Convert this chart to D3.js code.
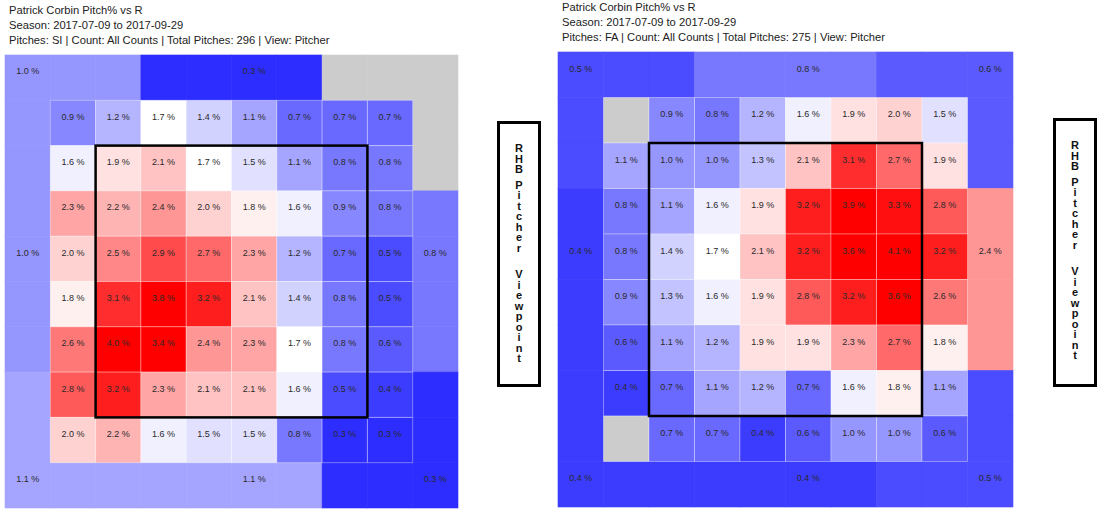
<!DOCTYPE html>
<html>
<head>
<meta charset="utf-8">
<script src="https://cdn.jsdelivr.net/npm/d3@7"></script>
<style>
  body { margin: 0; background: #fff; }
  svg { display: block; font-family: "Liberation Sans", Arial, sans-serif; }
</style>
</head>
<body>
<div id="chart"></div>
<script>
// zone grid: 10 x 10 cells, inner 8 x 8 are single zones, outer ring is 8 regions
var zone_index   = d3.range(10);
var region_names = ["TL", "T", "TR", "L", "R", "BL", "B", "BR"];

var si_titles = [
  "Patrick Corbin Pitch% vs R",
  "Season: 2017-07-09 to 2017-09-29",
  "Pitches: SI | Count: All Counts | Total Pitches: 296 | View: Pitcher"
];
var fa_titles = [
  "Patrick Corbin Pitch% vs R",
  "Season: 2017-07-09 to 2017-09-29",
  "Pitches: FA | Count: All Counts | Total Pitches: 275 | View: Pitcher"
];

// inner zones, rows top to bottom, columns left to right (null = no pitches)
var si_inner = [
  [0.9, 1.2, 1.7, 1.4, 1.1, 0.7, 0.7, 0.7],
  [1.6, 1.9, 2.1, 1.7, 1.5, 1.1, 0.8, 0.8],
  [2.3, 2.2, 2.4, 2.0, 1.8, 1.6, 0.9, 0.8],
  [2.0, 2.5, 2.9, 2.7, 2.3, 1.2, 0.7, 0.5],
  [1.8, 3.1, 3.8, 3.2, 2.1, 1.4, 0.8, 0.5],
  [2.6, 4.0, 3.4, 2.4, 2.3, 1.7, 0.8, 0.6],
  [2.8, 3.2, 2.3, 2.1, 2.1, 1.6, 0.5, 0.4],
  [2.0, 2.2, 1.6, 1.5, 1.5, 0.8, 0.3, 0.3]
];
var si_outer = [1.0, 0.3, null, 1.0, 0.8, 1.1, 1.1, 0.3];

var fa_inner = [
  [null, 0.9, 0.8, 1.2, 1.6, 1.9, 2.0, 1.5],
  [1.1, 1.0, 1.0, 1.3, 2.1, 3.1, 2.7, 1.9],
  [0.8, 1.1, 1.6, 1.9, 3.2, 3.9, 3.3, 2.8],
  [0.8, 1.4, 1.7, 2.1, 3.2, 3.6, 4.1, 3.2],
  [0.9, 1.3, 1.6, 1.9, 2.8, 3.2, 3.6, 2.6],
  [0.6, 1.1, 1.2, 1.9, 1.9, 2.3, 2.7, 1.8],
  [0.4, 0.7, 1.1, 1.2, 0.7, 1.6, 1.8, 1.1],
  [null, 0.7, 0.7, 0.4, 0.6, 1.0, 1.0, 0.6]
];
var fa_outer = [0.5, 0.8, 0.6, 0.4, 2.4, 0.4, 0.4, 0.5];

var side_words = ["RHB", "Pitcher", "Viewpoint"];

var width  = 1119;
var height = 522;

var color = d3.scaleLinear()
  .domain([0, 1.7, 3.4])
  .range(["#0000ff", "#ffffff", "#ff0000"])
  .clamp(true);

function fill_of (v) {
  return v == null ? "#cccccc" : color(v);
}

// which outer region a ring cell belongs to
function region_of (c, r) {
  if (r === 0) return c <= 2 ? "TL" : (c <= 6 ? "T" : "TR");
  if (r === 9) return c <= 2 ? "BL" : (c <= 6 ? "B" : "BR");
  if (c === 0) return r <= 2 ? "TL" : (r <= 6 ? "L" : "BL");
  return r <= 2 ? "TR" : (r <= 6 ? "R" : "BR");
}
// cell that carries the region label
var label_cell = {TL:[0,0], T:[5,0], TR:[9,0], L:[0,4], R:[9,4], BL:[0,9], B:[5,9], BR:[9,9]};

var panels = [
  {titles:si_titles, inner:si_inner, outer:si_outer, gx:5,   gy:55, cell:45.3, tx:9,   ty:14,   bx:497,  by:121, bw:44, bh:266},
  {titles:fa_titles, inner:fa_inner, outer:fa_outer, gx:558, gy:52, cell:45.5, tx:562, ty:10.7, bx:1053, by:118, bw:44, bh:269}
];

var svg = d3.select("#chart").append("svg")
  .attr("width", width)
  .attr("height", height);

panels.forEach(function (p) {
  var g = svg.append("g");

  g.selectAll("text.title")
    .data(p.titles)
    .enter().append("text")
    .attr("class", "title")
    .attr("x", p.tx)
    .attr("y", function (d, i) { return p.ty + i*15; })
    .style("font-size", "11.2px")
    .style("fill", "#222")
    .text(function (d) { return d; });

  var x = d3.scaleBand().domain(zone_index).range([p.gx, p.gx + 10*p.cell]);
  var y = d3.scaleBand().domain(zone_index).range([p.gy, p.gy + 10*p.cell]);

  var outer_value = {};
  region_names.forEach(function (n, i) { outer_value[n] = p.outer[i]; });

  // ring cells
  var ring = [];
  zone_index.forEach(function (r) {
    zone_index.forEach(function (c) {
      if (r === 0 || r === 9 || c === 0 || c === 9) {
        ring.push({c:c, r:r, v:outer_value[region_of(c, r)]});
      }
    });
  });
  g.selectAll("rect.ring")
    .data(ring)
    .enter().append("rect")
    .attr("class", "ring")
    .attr("x", function (d) { return x(d.c); })
    .attr("y", function (d) { return y(d.r); })
    .attr("width", x.bandwidth())
    .attr("height", y.bandwidth())
    .style("fill", function (d) { return fill_of(d.v); })
    .style("stroke", function (d) { return fill_of(d.v); })
    .style("stroke-width", 0.6);

  // inner cells
  var cells = [];
  p.inner.forEach(function (row, ri) {
    row.forEach(function (v, ci) {
      cells.push({c:ci + 1, r:ri + 1, v:v});
    });
  });
  g.selectAll("rect.cell")
    .data(cells)
    .enter().append("rect")
    .attr("class", "cell")
    .attr("x", function (d) { return x(d.c); })
    .attr("y", function (d) { return y(d.r); })
    .attr("width", x.bandwidth())
    .attr("height", y.bandwidth())
    .style("fill", function (d) { return fill_of(d.v); })
    .style("stroke", "#ffffff")
    .style("stroke-opacity", 0.3)
    .style("stroke-width", 1);

  var labels = cells.filter(function (d) { return d.v != null; });
  region_names.forEach(function (n) {
    if (outer_value[n] != null) {
      labels.push({c:label_cell[n][0], r:label_cell[n][1], v:outer_value[n]});
    }
  });
  g.selectAll("text.val")
    .data(labels)
    .enter().append("text")
    .attr("class", "val")
    .attr("x", function (d) { return x(d.c) + x.bandwidth()/2; })
    .attr("y", function (d) { return y(d.r) + y.bandwidth()*0.43; })
    .attr("text-anchor", "middle")
    .style("font-size", "9px")
    .style("fill", "#2a2a2a")
    .text(function (d) { return d.v.toFixed(1) + " %"; });

  // strike zone
  g.append("rect")
    .attr("x", x(2))
    .attr("y", y(2))
    .attr("width", x(7) + x.bandwidth() - x(2))
    .attr("height", y(7) + y.bandwidth() - y(2))
    .style("fill", "none")
    .style("stroke", "#000")
    .style("stroke-width", 2.5);

  // side label box
  g.append("rect")
    .attr("x", p.bx + 1.5)
    .attr("y", p.by + 1.5)
    .attr("width", p.bw - 3)
    .attr("height", p.bh - 3)
    .style("fill", "none")
    .style("stroke", "#000")
    .style("stroke-width", 3);

  var letters = [];
  var ly = p.by + 31;
  var gaps = [15.5, 26.7];
  side_words.forEach(function (w, wi) {
    w.split("").forEach(function (ch, k) {
      letters.push({ch:ch, y:ly});
      if (k < w.length - 1) ly += 10.5;
    });
    if (wi < gaps.length) ly += gaps[wi];
  });
  g.selectAll("text.side")
    .data(letters)
    .enter().append("text")
    .attr("class", "side")
    .attr("x", p.bx + p.bw/2)
    .attr("y", function (d) { return d.y; })
    .attr("text-anchor", "middle")
    .style("font-size", "11px")
    .style("font-weight", "bold")
    .style("fill", "#111")
    .text(function (d) { return d.ch; });
});
</script>
</body>
</html>
